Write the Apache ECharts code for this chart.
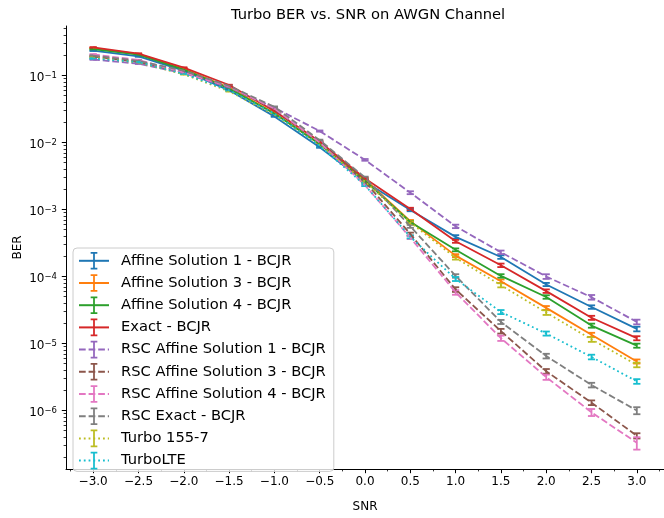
<!DOCTYPE html>
<html><head><meta charset="utf-8">
<script src="https://cdn.jsdelivr.net/npm/echarts@6/dist/echarts.min.js"></script>
<style>html,body{margin:0;padding:0;background:#fff}#c{width:664px;height:518px}</style>
</head><body><div id="c"></div>
<script>
// ---------- data ----------
const snr = [-3.0, -2.5, -2.0, -1.5, -1.0, -0.5, 0.0, 0.5, 1.0, 1.5, 2.0, 2.5, 3.0];

const seriesNames = [
  'Affine Solution 1 - BCJR', 'Affine Solution 3 - BCJR', 'Affine Solution 4 - BCJR', 'Exact - BCJR',
  'RSC Affine Solution 1 - BCJR', 'RSC Affine Solution 3 - BCJR', 'RSC Affine Solution 4 - BCJR', 'RSC Exact - BCJR',
  'Turbo 155-7', 'TurboLTE'
];

const berAffine1    = [0.234, 0.192, 0.118, 0.060, 0.0245, 0.0085, 0.0026, 9.8e-4, 3.9e-4, 1.95e-4, 7.6e-5, 3.5e-5, 1.65e-5];
const berAffine3    = [0.256, 0.208, 0.126, 0.066, 0.0275, 0.0094, 0.0028, 6.7e-4, 2.05e-4, 8.5e-5, 3.4e-5, 1.35e-5, 5.4e-6];
const berAffine4    = [0.247, 0.205, 0.122, 0.064, 0.0270, 0.0095, 0.0027, 6.5e-4, 2.5e-4, 1.02e-4, 4.95e-5, 1.85e-5, 9.3e-6];
const berExact      = [0.262, 0.212, 0.131, 0.072, 0.0295, 0.0103, 0.0029, 1.02e-3, 3.35e-4, 1.47e-4, 6.05e-5, 2.42e-5, 1.2e-5];
const berRscAffine1 = [0.173, 0.150, 0.108, 0.066, 0.0330, 0.0148, 0.0055, 1.78e-3, 5.6e-4, 2.3e-4, 1.0e-4, 4.9e-5, 2.1e-5];
const berRscAffine3 = [0.192, 0.160, 0.112, 0.068, 0.0310, 0.0100, 0.0026, 4.3e-4, 6.4e-5, 1.53e-5, 3.85e-6, 1.31e-6, 4.2e-7];
const berRscAffine4 = [0.206, 0.170, 0.110, 0.068, 0.0320, 0.0100, 0.0023, 3.8e-4, 5.8e-5, 1.2e-5, 3.15e-6, 9.4e-7, 3.3e-7];
const berRscExact   = [0.198, 0.165, 0.118, 0.070, 0.0340, 0.0108, 0.0030, 5.6e-4, 1.02e-4, 2.1e-5, 6.5e-6, 2.4e-6, 1.0e-6];
const berTurbo1557  = [0.184, 0.156, 0.104, 0.058, 0.0260, 0.0092, 0.0026, 6.4e-4, 1.9e-4, 7.4e-5, 2.9e-5, 1.15e-5, 4.8e-6];
const berTurboLTE   = [0.179, 0.158, 0.106, 0.060, 0.0270, 0.0089, 0.0023, 3.9e-4, 9.2e-5, 2.95e-5, 1.41e-5, 6.3e-6, 2.72e-6];

// relative half-width of each error bar (fraction of the BER value)
const errAffine1    = [0.01, 0.01, 0.01, 0.01, 0.015, 0.02, 0.03, 0.04, 0.06, 0.06, 0.055, 0.06, 0.08];
const errAffine3    = [0.01, 0.01, 0.01, 0.01, 0.015, 0.02, 0.03, 0.04, 0.05, 0.06, 0.065, 0.07, 0.07];
const errAffine4    = [0.01, 0.01, 0.01, 0.01, 0.015, 0.02, 0.03, 0.04, 0.05, 0.06, 0.06, 0.07, 0.07];
const errExact      = [0.01, 0.01, 0.01, 0.01, 0.015, 0.02, 0.03, 0.04, 0.05, 0.06, 0.06, 0.07, 0.07];
const errRscAffine1 = [0.01, 0.01, 0.01, 0.01, 0.015, 0.02, 0.03, 0.05, 0.06, 0.06, 0.08, 0.08, 0.08];
const errRscAffine3 = [0.01, 0.01, 0.01, 0.01, 0.015, 0.02, 0.03, 0.05, 0.08, 0.08, 0.08, 0.08, 0.09];
const errRscAffine4 = [0.01, 0.01, 0.01, 0.01, 0.015, 0.02, 0.03, 0.05, 0.08, 0.09, 0.09, 0.12, 0.21];
const errRscExact   = [0.01, 0.01, 0.01, 0.01, 0.015, 0.02, 0.03, 0.05, 0.06, 0.07, 0.08, 0.08, 0.12];
const errTurbo1557  = [0.01, 0.01, 0.01, 0.01, 0.015, 0.02, 0.03, 0.04, 0.06, 0.07, 0.08, 0.08, 0.08];
const errTurboLTE   = [0.01, 0.01, 0.01, 0.01, 0.015, 0.02, 0.03, 0.05, 0.07, 0.07, 0.07, 0.08, 0.08];

const xTickLabels = [-3.0, -2.5, -2.0, -1.5, -1.0, -0.5, 0.0, 0.5, 1.0, 1.5, 2.0, 2.5, 3.0];
const xMinorTicks = [-3.25, -2.75, -2.25, -1.75, -1.25, -0.75, -0.25, 0.25, 0.75, 1.25, 1.75, 2.25, 2.75, 3.25];
const yTickLabels = [1e-6, 1e-5, 1e-4, 1e-3, 1e-2, 1e-1];
const yMinorMantissas = [2, 3, 4, 5, 6, 7, 8, 9];
const yMinorDecades = [1e-7, 1e-6, 1e-5, 1e-4, 1e-3, 1e-2, 1e-1];

// ---------- styling ----------
const colors = ['#1f77b4', '#ff7f0e', '#2ca02c', '#d62728', '#9467bd', '#8c564b', '#e377c2', '#7f7f7f', '#bcbd22', '#17becf'];
const LW = 1.8;
const DASH = [6.7, 2.9];
const DOT = [1.8, 3.0];
const lineTypes = ['solid', 'solid', 'solid', 'solid', DASH, DASH, DASH, DASH, DOT, DOT];
const berList = [berAffine1, berAffine3, berAffine4, berExact, berRscAffine1, berRscAffine3, berRscAffine4, berRscExact, berTurbo1557, berTurboLTE];
const errList = [errAffine1, errAffine3, errAffine4, errExact, errRscAffine1, errRscAffine3, errRscAffine4, errRscExact, errTurbo1557, errTurboLTE];
const FONT = 'DejaVu Sans';
const errSymbol = 'path://M0,0M20,20M6.2,0H13.8V2H11V18H13.8V20H6.2V18H9V2H6.2Z';

const yMinorTicks = [];
yMinorDecades.forEach(d => yMinorMantissas.forEach(m => yMinorTicks.push(m * d)));

const Y_MIN = 1.34e-7, Y_MAX = 0.547, X_MIN = -3.3, X_MAX = 3.3;

function errRender(color) {
  return function (params, api) {
    const x = api.value(0), y = api.value(1), e = api.value(2);
    const p1 = api.coord([x, y * (1 + e)]);
    const p2 = api.coord([x, y * (1 - e)]);
    const hw = 3.6;
    const st = () => ({ stroke: color, lineWidth: LW, fill: null });
    return {
      type: 'group',
      children: [
        { type: 'line', shape: { x1: p1[0], y1: p1[1], x2: p2[0], y2: p2[1] }, style: st() },
        { type: 'line', shape: { x1: p1[0] - hw, y1: p1[1], x2: p1[0] + hw, y2: p1[1] }, style: st() },
        { type: 'line', shape: { x1: p2[0] - hw, y1: p2[1], x2: p2[0] + hw, y2: p2[1] }, style: st() }
      ]
    };
  };
}

const series = [];
seriesNames.forEach((name, i) => {
  series.push({
    name: name,
    type: 'line',
    xAxisIndex: 0, yAxisIndex: 0,
    data: snr.map((x, k) => [x, berList[i][k]]),
    showSymbol: false,
    symbol: errSymbol,
    symbolKeepAspect: true,
    color: colors[i],
    itemStyle: { color: colors[i], borderWidth: 0 },
    lineStyle: { color: colors[i], width: LW, type: lineTypes[i] },
    emphasis: { disabled: true },
    animation: false,
    z: 2
  });
  series.push({
    name: name,
    type: 'custom',
    xAxisIndex: 0, yAxisIndex: 0,
    data: snr.map((x, k) => [x, berList[i][k], errList[i][k]]),
    encode: { x: 0, y: 1 },
    renderItem: errRender(colors[i]),
    color: colors[i],
    animation: false,
    z: 2
  });
});

const chart = echarts.init(document.getElementById('c'), null, { renderer: 'canvas' });
chart.setOption({
  animation: false,
  backgroundColor: '#fff',
  title: {
    text: 'Turbo BER vs. SNR on AWGN Channel',
    left: 363, top: 3, textAlign: 'center',
    textStyle: { fontFamily: FONT, fontSize: 14.7, fontWeight: 'normal', color: '#000' }
  },
  grid: { left: 66, right: -5, top: 26, bottom: 38, containLabel: false },
  legend: {
    data: seriesNames,
    orient: 'vertical',
    left: 73, top: 248,
    itemWidth: 30, itemHeight: 22, itemGap: 4.6,
    padding: [4, 8, 2, 5],
    backgroundColor: 'rgba(255,255,255,0.8)',
    borderColor: '#cccccc', borderWidth: 1, borderRadius: 4,
    textStyle: { fontFamily: FONT, fontSize: 14.7, color: '#000', padding: [0, 0, 0, 7] },
    selectedMode: false
  },
  xAxis: [{
    type: 'value', min: X_MIN, max: X_MAX, position: 'bottom',
    name: 'SNR', nameLocation: 'middle', nameGap: 32, nameMoveOverlap: false,
    nameTextStyle: { fontFamily: FONT, fontSize: 12, color: '#000' },
    axisLine: { show: true, onZero: false, lineStyle: { color: '#000', width: 1 } },
    axisTick: { show: true, length: 4.2, lineStyle: { color: '#000', width: 1 }, customValues: xTickLabels },
    axisLabel: {
      show: true, margin: 7, fontFamily: FONT, fontSize: 12, color: '#000',
      customValues: xTickLabels,
      formatter: v => (v < 0 ? '\u2212' : '') + Math.abs(v).toFixed(1)
    },
    splitLine: { show: false }
  }, {
    type: 'value', min: X_MIN, max: X_MAX, position: 'bottom',
    axisLine: { show: false, onZero: false },
    axisTick: { show: true, length: 2.4, lineStyle: { color: '#000', width: 0.8 }, customValues: xMinorTicks },
    axisLabel: { show: false },
    splitLine: { show: false }
  }],
  yAxis: [{
    type: 'log', logBase: 10, min: Y_MIN, max: Y_MAX, position: 'left',
    name: 'BER', nameLocation: 'middle', nameGap: 42, nameRotate: 90, nameMoveOverlap: false,
    nameTextStyle: { fontFamily: FONT, fontSize: 12, color: '#000' },
    axisLine: { show: true, onZero: false, lineStyle: { color: '#000', width: 1 } },
    axisTick: { show: true, length: 4.2, lineStyle: { color: '#000', width: 1 }, customValues: yTickLabels },
    axisLabel: {
      show: true, margin: 9, fontFamily: FONT, color: '#000',
      customValues: yTickLabels,
      padding: [4, 0, 0, 0],
      formatter: v => '{b|10}{s|\u2212' + Math.round(-Math.log10(v)) + '}',
      rich: {
        b: { fontFamily: FONT, fontSize: 12, lineHeight: 12, padding: [5.5, 0, 0, 0], verticalAlign: 'bottom', color: '#000' },
        s: { fontFamily: FONT, fontSize: 8.5, lineHeight: 9, padding: [0, 0, 8.5, 0], verticalAlign: 'top', color: '#000' }
      }
    },
    splitLine: { show: false }
  }, {
    type: 'log', logBase: 10, min: Y_MIN, max: Y_MAX, position: 'left',
    axisLine: { show: false, onZero: false },
    axisTick: { show: true, length: 2.4, lineStyle: { color: '#000', width: 0.8 }, customValues: yMinorTicks },
    axisLabel: { show: false },
    splitLine: { show: false }
  }],
  series: series
});
</script>
</body></html>
